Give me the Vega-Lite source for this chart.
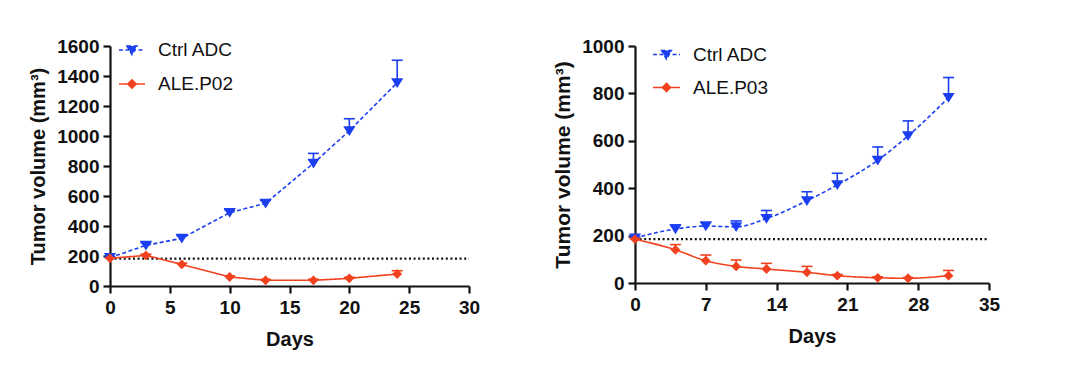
{
  "$schema": "https://vega.github.io/schema/vega-lite/v6.json",
  "background": "white",
  "padding": {"left": 28, "top": 36, "right": 5, "bottom": 5},
  "spacing": 72,
  "datasets": {
    "p02": [
      {"series": "Ctrl ADC", "day": 0, "vol": 189, "upper": 195},
      {"series": "Ctrl ADC", "day": 3, "vol": 271, "upper": 288},
      {"series": "Ctrl ADC", "day": 6, "vol": 318, "upper": 335},
      {"series": "Ctrl ADC", "day": 10, "vol": 489, "upper": 508},
      {"series": "Ctrl ADC", "day": 13, "vol": 551, "upper": 570},
      {"series": "Ctrl ADC", "day": 17, "vol": 818, "upper": 884},
      {"series": "Ctrl ADC", "day": 20, "vol": 1035, "upper": 1115},
      {"series": "Ctrl ADC", "day": 24, "vol": 1355, "upper": 1505},
      {"series": "ALE.P02", "day": 0, "vol": 185, "upper": 188},
      {"series": "ALE.P02", "day": 3, "vol": 204, "upper": 212},
      {"series": "ALE.P02", "day": 6, "vol": 144, "upper": 152},
      {"series": "ALE.P02", "day": 10, "vol": 60, "upper": 68},
      {"series": "ALE.P02", "day": 13, "vol": 38, "upper": 44},
      {"series": "ALE.P02", "day": 17, "vol": 38, "upper": 45},
      {"series": "ALE.P02", "day": 20, "vol": 51, "upper": 58},
      {"series": "ALE.P02", "day": 24, "vol": 80, "upper": 102}
    ],
    "p03": [
      {"series": "Ctrl ADC", "day": 0, "vol": 190, "upper": 194},
      {"series": "Ctrl ADC", "day": 4, "vol": 228, "upper": 245},
      {"series": "Ctrl ADC", "day": 7, "vol": 240, "upper": 256},
      {"series": "Ctrl ADC", "day": 10, "vol": 237, "upper": 262},
      {"series": "Ctrl ADC", "day": 13, "vol": 272, "upper": 306},
      {"series": "Ctrl ADC", "day": 17, "vol": 347, "upper": 385},
      {"series": "Ctrl ADC", "day": 20, "vol": 414, "upper": 463},
      {"series": "Ctrl ADC", "day": 24, "vol": 518, "upper": 574},
      {"series": "Ctrl ADC", "day": 27, "vol": 621, "upper": 684},
      {"series": "Ctrl ADC", "day": 31, "vol": 782, "upper": 867},
      {"series": "ALE.P03", "day": 0, "vol": 185, "upper": 188},
      {"series": "ALE.P03", "day": 4, "vol": 140, "upper": 162},
      {"series": "ALE.P03", "day": 7, "vol": 94, "upper": 118},
      {"series": "ALE.P03", "day": 10, "vol": 70, "upper": 97},
      {"series": "ALE.P03", "day": 13, "vol": 59, "upper": 83},
      {"series": "ALE.P03", "day": 17, "vol": 45, "upper": 70},
      {"series": "ALE.P03", "day": 20, "vol": 31, "upper": 36},
      {"series": "ALE.P03", "day": 24, "vol": 22, "upper": 26},
      {"series": "ALE.P03", "day": 27, "vol": 20, "upper": 23},
      {"series": "ALE.P03", "day": 31, "vol": 31, "upper": 53}
    ],
    "base02": [{"day": 0, "day2": 30, "vol": 182}],
    "base03": [{"day": 0, "day2": 35, "vol": 185}]
  },
  "hconcat": [
    {
      "width": 359,
      "height": 240,
      "encoding": {
        "x": {"field": "day", "type": "quantitative", "scale": {"domain": [0, 30], "nice": false}, "axis": {"values": [0, 5, 10, 15, 20, 25, 30], "title": "Days", "format": "d"}},
        "y": {"field": "vol", "type": "quantitative", "scale": {"domain": [0, 1600], "nice": false}, "axis": {"values": [0, 200, 400, 600, 800, 1000, 1200, 1400, 1600], "title": "Tumor volume (mm³)", "format": "d"}}
      },
      "layer": [
        {
          "data": {"name": "base02"},
          "mark": {"type": "rule", "color": "#111111", "strokeWidth": 2.2, "strokeDash": [2, 2.6]},
          "encoding": {"x2": {"field": "day2"}}
        },
        {
          "data": {"name": "p02"},
          "mark": {"type": "rule", "strokeWidth": 1.6},
          "encoding": {
            "y2": {"field": "upper"},
            "color": {"field": "series", "type": "nominal", "scale": {"domain": ["Ctrl ADC", "ALE.P02"], "range": ["#1b3ff0", "#f2411f"]},
              "legend": {"orient": "none", "legendX": 8, "legendY": -10, "title": null, "symbolSize": 676, "symbolStrokeWidth": 1.6, "symbolOpacity": 1, "rowPadding": 10, "labelOffset": 12, "labelFontSize": 19, "labelFont": "Liberation Sans", "labelColor": "#111111", "padding": 0}}
          }
        },
        {
          "data": {"name": "p02"},
          "mark": {"type": "tick", "orient": "horizontal", "size": 11, "thickness": 1.6, "opacity": 1},
          "encoding": {
            "y": {"field": "upper", "type": "quantitative", "scale": {"domain": [0, 1600], "nice": false}, "axis": {"values": [0, 200, 400, 600, 800, 1000, 1200, 1400, 1600], "title": "Tumor volume (mm³)", "format": "d"}},
            "color": {"field": "series", "type": "nominal",
              "legend": {"orient": "none", "legendX": 8, "legendY": -10, "title": null, "symbolSize": 676, "symbolStrokeWidth": 1.6, "symbolOpacity": 1, "rowPadding": 10, "labelOffset": 12, "labelFontSize": 19, "labelFont": "Liberation Sans", "labelColor": "#111111", "padding": 0}}
          }
        },
        {
          "data": {"name": "p02"},
          "mark": {"type": "line", "strokeWidth": 1.6},
          "encoding": {
            "color": {"field": "series", "type": "nominal",
              "legend": {"orient": "none", "legendX": 8, "legendY": -10, "title": null, "symbolSize": 676, "symbolStrokeWidth": 1.6, "symbolOpacity": 1, "rowPadding": 10, "labelOffset": 12, "labelFontSize": 19, "labelFont": "Liberation Sans", "labelColor": "#111111", "padding": 0}},
            "strokeDash": {"field": "series", "type": "nominal", "scale": {"domain": ["Ctrl ADC", "ALE.P02"], "range": [[4, 2.5], [1, 0]]},
              "legend": {"orient": "none", "legendX": 8, "legendY": -10, "title": null, "symbolSize": 676, "symbolStrokeWidth": 1.6, "symbolOpacity": 1, "rowPadding": 10, "labelOffset": 12, "labelFontSize": 19, "labelFont": "Liberation Sans", "labelColor": "#111111", "padding": 0}}
          }
        },
        {
          "data": {"name": "p02"},
          "mark": {"type": "point", "filled": true, "opacity": 1, "size": 0},
          "encoding": {
            "color": {"field": "series", "type": "nominal",
              "legend": {"orient": "none", "legendX": 8, "legendY": -10, "title": null, "symbolSize": 676, "symbolStrokeWidth": 1.6, "symbolOpacity": 1, "rowPadding": 10, "labelOffset": 12, "labelFontSize": 19, "labelFont": "Liberation Sans", "labelColor": "#111111", "padding": 0}},
            "shape": {"field": "series", "type": "nominal",
              "scale": {"domain": ["Ctrl ADC", "ALE.P02"], "range": ["M-1,0H1M-0.38,-0.3L0.38,-0.3L0,0.36Z", "M-1,0H1M0,-0.32L0.32,0L0,0.32L-0.32,0Z"]},
              "legend": {"orient": "none", "legendX": 8, "legendY": -10, "title": null, "symbolSize": 676, "symbolStrokeWidth": 1.6, "symbolOpacity": 1, "rowPadding": 10, "labelOffset": 12, "labelFontSize": 19, "labelFont": "Liberation Sans", "labelColor": "#111111", "padding": 0}}
          }
        },
        {
          "data": {"name": "p02"},
          "transform": [{"filter": "datum.series === 'Ctrl ADC'"}],
          "mark": {"type": "point", "filled": true, "opacity": 1, "size": 150, "shape": "M-1,-0.75L1,-0.75L0,0.85Z"},
          "encoding": {
            "color": {"field": "series", "type": "nominal",
              "legend": {"orient": "none", "legendX": 8, "legendY": -10, "title": null, "symbolSize": 676, "symbolStrokeWidth": 1.6, "symbolOpacity": 1, "rowPadding": 10, "labelOffset": 12, "labelFontSize": 19, "labelFont": "Liberation Sans", "labelColor": "#111111", "padding": 0}}
          }
        },
        {
          "data": {"name": "p02"},
          "transform": [{"filter": "datum.series === 'ALE.P02'"}],
          "mark": {"type": "point", "filled": true, "opacity": 1, "size": 150, "shape": "M0,-0.8L0.8,0L0,0.8L-0.8,0Z"},
          "encoding": {
            "color": {"field": "series", "type": "nominal",
              "legend": {"orient": "none", "legendX": 8, "legendY": -10, "title": null, "symbolSize": 676, "symbolStrokeWidth": 1.6, "symbolOpacity": 1, "rowPadding": 10, "labelOffset": 12, "labelFontSize": 19, "labelFont": "Liberation Sans", "labelColor": "#111111", "padding": 0}}
          }
        }
      ]
    },
    {
      "width": 354,
      "height": 237,
      "encoding": {
        "x": {"field": "day", "type": "quantitative", "scale": {"domain": [0, 35], "nice": false}, "axis": {"values": [0, 7, 14, 21, 28, 35], "title": "Days", "format": "d"}},
        "y": {"field": "vol", "type": "quantitative", "scale": {"domain": [0, 1000], "nice": false}, "axis": {"values": [0, 200, 400, 600, 800, 1000], "title": "Tumor volume (mm³)", "titleFontSize": 21, "format": "d"}}
      },
      "layer": [
        {
          "data": {"name": "base03"},
          "mark": {"type": "rule", "color": "#111111", "strokeWidth": 2.2, "strokeDash": [2, 2.6]},
          "encoding": {"x2": {"field": "day2"}}
        },
        {
          "data": {"name": "p03"},
          "mark": {"type": "rule", "strokeWidth": 1.6},
          "encoding": {
            "y2": {"field": "upper"},
            "color": {"field": "series", "type": "nominal", "scale": {"domain": ["Ctrl ADC", "ALE.P03"], "range": ["#1b3ff0", "#f2411f"]},
              "legend": {"orient": "none", "legendX": 17, "legendY": -6, "title": null, "symbolSize": 729, "symbolStrokeWidth": 1.6, "symbolOpacity": 1, "rowPadding": 8, "labelOffset": 12, "labelFontSize": 19, "labelFont": "Liberation Sans", "labelColor": "#111111", "padding": 0}}
          }
        },
        {
          "data": {"name": "p03"},
          "mark": {"type": "tick", "orient": "horizontal", "size": 11, "thickness": 1.6, "opacity": 1},
          "encoding": {
            "y": {"field": "upper", "type": "quantitative", "scale": {"domain": [0, 1000], "nice": false}, "axis": {"values": [0, 200, 400, 600, 800, 1000], "title": "Tumor volume (mm³)", "titleFontSize": 21, "format": "d"}},
            "color": {"field": "series", "type": "nominal",
              "legend": {"orient": "none", "legendX": 17, "legendY": -6, "title": null, "symbolSize": 729, "symbolStrokeWidth": 1.6, "symbolOpacity": 1, "rowPadding": 8, "labelOffset": 12, "labelFontSize": 19, "labelFont": "Liberation Sans", "labelColor": "#111111", "padding": 0}}
          }
        },
        {
          "data": {"name": "p03"},
          "mark": {"type": "line", "strokeWidth": 1.6, "interpolate": "monotone"},
          "encoding": {
            "color": {"field": "series", "type": "nominal",
              "legend": {"orient": "none", "legendX": 17, "legendY": -6, "title": null, "symbolSize": 729, "symbolStrokeWidth": 1.6, "symbolOpacity": 1, "rowPadding": 8, "labelOffset": 12, "labelFontSize": 19, "labelFont": "Liberation Sans", "labelColor": "#111111", "padding": 0}},
            "strokeDash": {"field": "series", "type": "nominal", "scale": {"domain": ["Ctrl ADC", "ALE.P03"], "range": [[4, 2.5], [1, 0]]},
              "legend": {"orient": "none", "legendX": 17, "legendY": -6, "title": null, "symbolSize": 729, "symbolStrokeWidth": 1.6, "symbolOpacity": 1, "rowPadding": 8, "labelOffset": 12, "labelFontSize": 19, "labelFont": "Liberation Sans", "labelColor": "#111111", "padding": 0}}
          }
        },
        {
          "data": {"name": "p03"},
          "mark": {"type": "point", "filled": true, "opacity": 1, "size": 0},
          "encoding": {
            "color": {"field": "series", "type": "nominal",
              "legend": {"orient": "none", "legendX": 17, "legendY": -6, "title": null, "symbolSize": 729, "symbolStrokeWidth": 1.6, "symbolOpacity": 1, "rowPadding": 8, "labelOffset": 12, "labelFontSize": 19, "labelFont": "Liberation Sans", "labelColor": "#111111", "padding": 0}},
            "shape": {"field": "series", "type": "nominal",
              "scale": {"domain": ["Ctrl ADC", "ALE.P03"], "range": ["M-1,0H1M-0.36,-0.29L0.36,-0.29L0,0.34Z", "M-1,0H1M0,-0.3L0.3,0L0,0.3L-0.3,0Z"]},
              "legend": {"orient": "none", "legendX": 17, "legendY": -6, "title": null, "symbolSize": 729, "symbolStrokeWidth": 1.6, "symbolOpacity": 1, "rowPadding": 8, "labelOffset": 12, "labelFontSize": 19, "labelFont": "Liberation Sans", "labelColor": "#111111", "padding": 0}}
          }
        },
        {
          "data": {"name": "p03"},
          "transform": [{"filter": "datum.series === 'Ctrl ADC'"}],
          "mark": {"type": "point", "filled": true, "opacity": 1, "size": 150, "shape": "M-1,-0.75L1,-0.75L0,0.85Z"},
          "encoding": {
            "color": {"field": "series", "type": "nominal",
              "legend": {"orient": "none", "legendX": 17, "legendY": -6, "title": null, "symbolSize": 729, "symbolStrokeWidth": 1.6, "symbolOpacity": 1, "rowPadding": 8, "labelOffset": 12, "labelFontSize": 19, "labelFont": "Liberation Sans", "labelColor": "#111111", "padding": 0}}
          }
        },
        {
          "data": {"name": "p03"},
          "transform": [{"filter": "datum.series === 'ALE.P03'"}],
          "mark": {"type": "point", "filled": true, "opacity": 1, "size": 150, "shape": "M0,-0.8L0.8,0L0,0.8L-0.8,0Z"},
          "encoding": {
            "color": {"field": "series", "type": "nominal",
              "legend": {"orient": "none", "legendX": 17, "legendY": -6, "title": null, "symbolSize": 729, "symbolStrokeWidth": 1.6, "symbolOpacity": 1, "rowPadding": 8, "labelOffset": 12, "labelFontSize": 19, "labelFont": "Liberation Sans", "labelColor": "#111111", "padding": 0}}
          }
        }
      ]
    }
  ],
  "resolve": {"scale": {"color": "independent", "shape": "independent", "strokeDash": "independent", "x": "independent", "y": "independent"}, "legend": {"color": "independent", "shape": "independent", "strokeDash": "independent"}},
  "config": {
    "view": {"stroke": null},
    "font": "Liberation Sans",
    "axis": {
      "domainColor": "#111111", "domainWidth": 2.2, "tickColor": "#111111", "tickWidth": 2.2, "tickSize": 7,
      "labelFont": "Liberation Sans", "labelFontWeight": "bold", "labelFontSize": 19, "labelColor": "#111111",
      "titleFont": "Liberation Sans", "titleFontWeight": "bold", "titleFontSize": 20, "titleColor": "#111111",
      "grid": false, "labelFlush": false, "labelOverlap": false
    },
    "axisY": {"labelPadding": 4, "titlePadding": 8},
    "axisX": {"labelPadding": 5, "titlePadding": 12}
  }
}
